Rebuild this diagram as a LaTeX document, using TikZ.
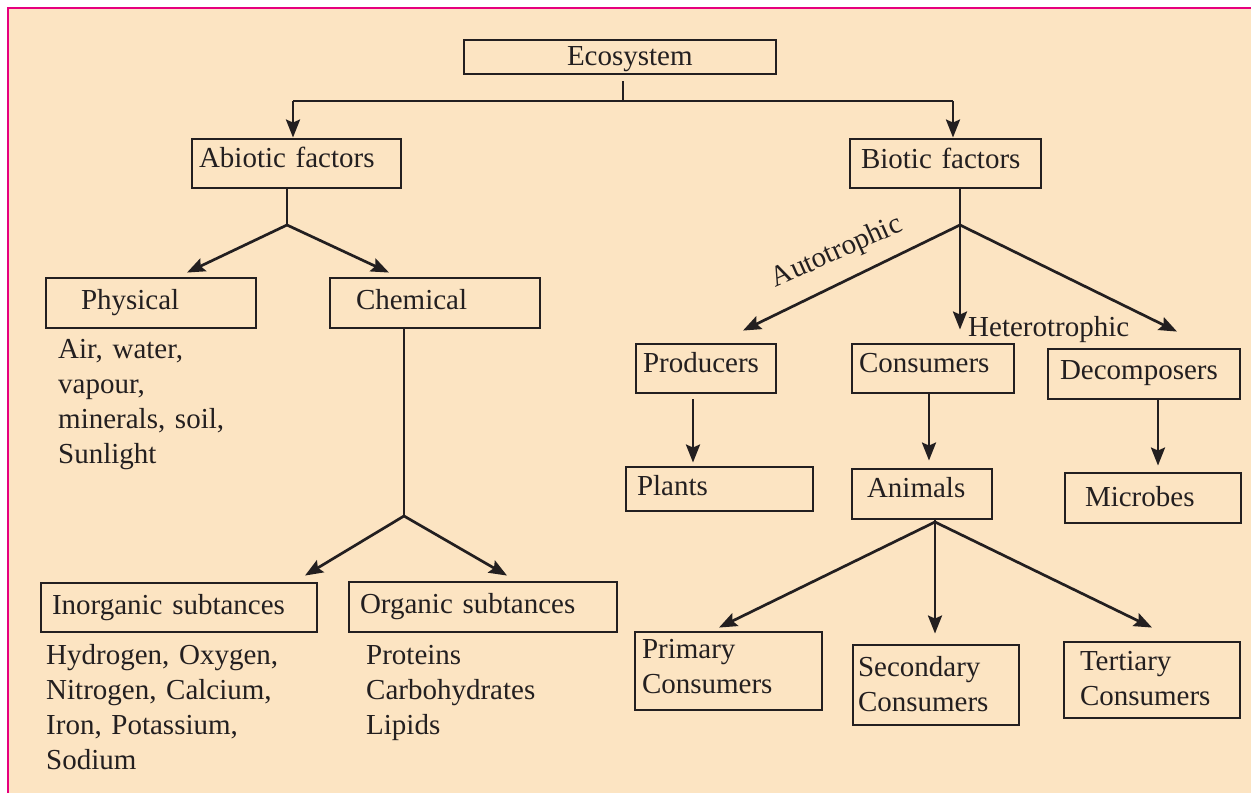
\documentclass[tikz,border=0pt]{standalone}
\usepackage{fontspec}
\setmainfont{Liberation Serif}
\usetikzlibrary{arrows.meta}
\definecolor{bgpeach}{RGB}{252,228,194}
\definecolor{bordermag}{RGB}{230,0,126}
\definecolor{ink}{RGB}{35,31,32}
\newcommand\lpad[1]{\hspace*{#1pt}}
\begin{document}
\begin{tikzpicture}[x=1pt,y=-1pt,
  font=\fontsize{29}{35}\selectfont,
  every node/.style={text=ink},
  bx/.style={draw=ink, line width=2.9pt, inner sep=0pt, align=left, text height=20pt},
  lst/.style={inner sep=0pt, align=left, anchor=base west, text width=#1},
  conn/.style={draw=ink, line width=2.7pt},
  arr/.style={conn, -{Stealth[length=18pt,width=14pt,inset=3pt]}}
]
\useasboundingbox (0,0) rectangle (1251,793);
\fill[white] (0,0) rectangle (1251,793);
\fill[bgpeach] (8,8) rectangle (1251,793);
\draw[bordermag, line width=2.5pt] (1251,8) -- (8,8) -- (8,793);

% boxes
\node[bx, text width=312pt, minimum height=34pt, text depth=4pt] (eco) at (620,57) {\lpad{103}Ecosystem};
\node[bx, text width=209pt, minimum height=49pt, text depth=13pt] (abiotic) at (296.5,163.5) {\lpad{7}Abiotic factors};
\node[bx, text width=191pt, minimum height=49pt, text depth=11pt] (biotic) at (945.5,163.5) {\lpad{11}Biotic factors};
\node[bx, text width=210pt, minimum height=50pt, text depth=8pt] (physical) at (151,303) {\lpad{35}Physical};
\node[bx, text width=210pt, minimum height=50pt, text depth=8pt] (chemical) at (435,303) {\lpad{26}Chemical};
\node[bx, text width=276pt, minimum height=49pt, text depth=7pt] (inorganic) at (179,607.5) {\lpad{11}Inorganic subtances};
\node[bx, text width=268pt, minimum height=50pt, text depth=7pt] (organic) at (483,607) {\lpad{11}Organic subtances};
\node[bx, text width=140pt, minimum height=49pt, text depth=13pt] (producers) at (706,368.5) {\lpad{7}Producers};
\node[bx, text width=162pt, minimum height=49pt, text depth=13pt] (consumers) at (933,368.5) {\lpad{7}Consumers};
\node[bx, text width=192pt, minimum height=50pt, text depth=10pt] (decomposers) at (1144,374) {\lpad{12}Decomposers};
\node[bx, text width=187pt, minimum height=44pt, text depth=8pt] (plants) at (719.5,489) {\lpad{11}Plants};
\node[bx, text width=140pt, minimum height=50pt, text depth=14pt] (animals) at (922,494) {\lpad{15}Animals};
\node[bx, text width=176pt, minimum height=50pt, text depth=4pt] (microbes) at (1153,498) {\lpad{20}Microbes};
\node[bx, text width=187pt, minimum height=78pt, text depth=46pt] (primary) at (728.5,671) {\lpad{7}Primary\\\lpad{7}Consumers};
\node[bx, text width=166pt, minimum height=80pt, text depth=38pt] (secondary) at (936,685) {\lpad{5}Secondary\\\lpad{5}Consumers};
\node[bx, text width=176pt, minimum height=76pt, text depth=40pt] (tertiary) at (1152,680) {\lpad{16}Tertiary\\\lpad{16}Consumers};

% free texts
\node[lst=220pt] (physlist) at (58,358) {Air, water,\\vapour,\\minerals, soil,\\Sunlight};
\node[lst=300pt] (inorglist) at (46,664) {Hydrogen, Oxygen,\\Nitrogen, Calcium,\\Iron, Potassium,\\Sodium};
\node[lst=250pt] (orglist) at (366,664) {Proteins\\Carbohydrates\\Lipids};
\node[anchor=base, rotate=24, inner sep=0pt] (auto) at (840,259) {Autotrophic};
\node[anchor=base west, inner sep=0pt] (hetero) at (968,336) {Heterotrophic};

% connectors
\coordinate (ej) at (623,101);
\coordinate (aj) at (293,101);
\coordinate (bj) at (953,101);
\draw[conn] ([yshift=-6pt]eco.south -| ej) -- (ej);
\draw[conn] (aj) -- (bj);
\draw[arr] (aj) -- (aj |- abiotic.north);
\draw[arr] (bj) -- (bj |- biotic.north);

\coordinate (abj) at (287,225);
\draw[conn] (abiotic.south -| abj) -- (abj);
\draw[arr] (abj) -- ([xshift=36pt,yshift=4pt]physical.north);
\draw[arr] (abj) -- ([xshift=-46pt,yshift=4pt]chemical.north);

\coordinate (cj) at (404,516);
\draw[conn] (chemical.south -| cj) -- (cj);
\draw[arr] (cj) -- ([xshift=126pt,yshift=6pt]inorganic.north);
\draw[arr] (cj) -- ([xshift=24pt,yshift=5pt]organic.north);

\coordinate (bbj) at (960,225);
\draw[conn] (biotic.south -| bbj) -- (bbj);
\draw[arr] (bbj) -- ([xshift=37pt,yshift=12pt]producers.north);
\draw[arr] (bbj) -- ([xshift=27pt,yshift=13pt]consumers.north);
\draw[arr] (bbj) -- ([xshift=33pt,yshift=16pt]decomposers.north);

\draw[arr] ([xshift=-13pt,yshift=-5pt]producers.south) -- ([xshift=-26.5pt,yshift=3pt]plants.north);
\draw[arr] ([xshift=-4pt]consumers.south) -- ([xshift=7pt,yshift=7pt]animals.north);
\draw[arr] ([xshift=14pt]decomposers.south) -- ([xshift=5pt,yshift=6pt]microbes.north);

\coordinate (anj) at (935,522);
\draw[conn] (animals.south -| anj) -- (anj);
\draw[arr] (anj) -- ([xshift=-9.5pt,yshift=3pt]primary.north);
\draw[arr] (anj) -- ([xshift=-1pt,yshift=10pt]secondary.north);
\draw[arr] (anj) -- ([yshift=13pt]tertiary.north);
\end{tikzpicture}
\end{document}
